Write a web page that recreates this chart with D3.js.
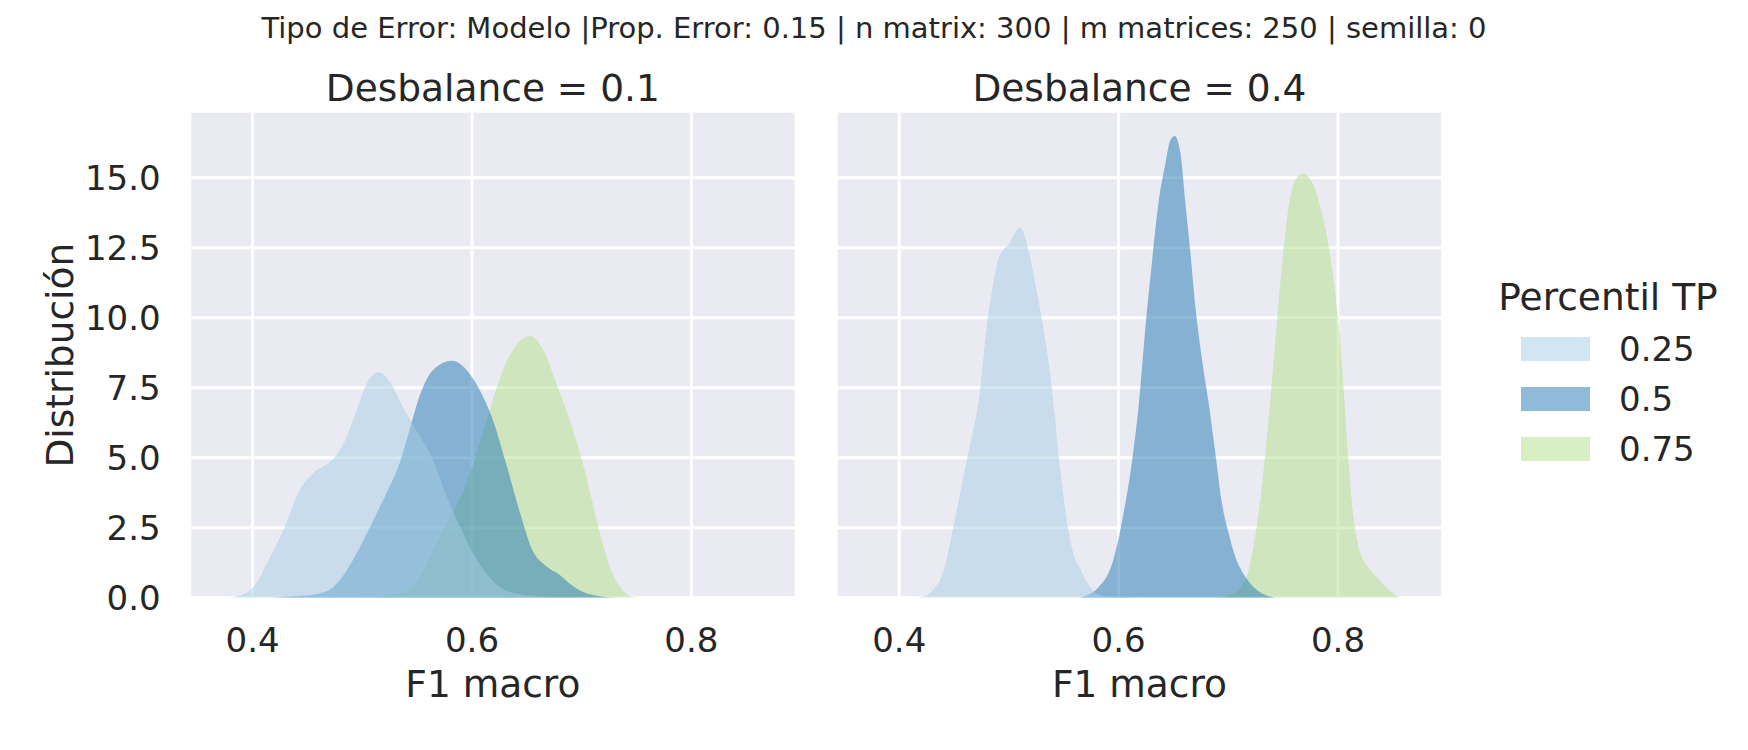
<!DOCTYPE html>
<html>
<head>
<meta charset="utf-8">
<script src="https://cdn.jsdelivr.net/npm/d3@7"></script>
<style>
  body { margin: 0; background: #fff; }
  text { font-family: "DejaVu Sans", sans-serif; fill: #262626; }
</style>
</head>
<body>
<div id="chart"></div>
<script>
// categories
var panelTitles = ["Desbalance = 0.1", "Desbalance = 0.4"];
var percentiles = ["0.25", "0.5", "0.75"];
var colors = ["#a6cee3", "#1f78b4", "#b2df8a"];

// tick values
var xTicks = [0.4, 0.6, 0.8];
var yTicks = [0, 2.5, 5, 7.5, 10, 12.5, 15];
var xDomain = [0.344, 0.894];
var yDomain = [0, 17.32];

// kde curves: [F1 macro, density]
var kde01_p25 = [[0.380,0],[0.386,0.05],[0.393,0.15],[0.401,0.39],[0.413,1.23],[0.428,2.42],[0.443,3.85],[0.455,4.44],[0.474,4.98],[0.483,5.51],[0.495,6.70],[0.504,7.65],[0.515,8.05],[0.525,7.71],[0.537,6.82],[0.549,5.99],[0.5645,4.92],[0.577,3.61],[0.589,2.54],[0.601,1.58],[0.613,0.87],[0.625,0.39],[0.640,0.15],[0.660,0.05],[0.680,0]];
var kde01_p50 = [[0.420,0],[0.428,0.03],[0.445,0.07],[0.458,0.12],[0.474,0.39],[0.486,0.99],[0.498,1.82],[0.510,2.77],[0.522,3.73],[0.534,4.80],[0.543,5.99],[0.552,7.18],[0.5645,8.13],[0.582,8.46],[0.595,8.13],[0.607,7.42],[0.619,6.35],[0.631,4.80],[0.643,3.13],[0.655,1.70],[0.668,1.11],[0.680,0.81],[0.689,0.51],[0.701,0.21],[0.716,0.05],[0.731,0]];
var kde01_p75 = [[0.500,0],[0.522,0.05],[0.537,0.2],[0.549,0.51],[0.5645,1.70],[0.577,2.65],[0.595,4.08],[0.607,5.51],[0.619,7.06],[0.631,8.37],[0.643,9.14],[0.653,9.35],[0.665,8.85],[0.677,7.65],[0.689,6.35],[0.701,4.80],[0.710,3.37],[0.719,1.94],[0.728,0.87],[0.737,0.27],[0.746,0.03],[0.752,0]];

var kde04_p25 = [[0.415,0],[0.4215,0.03],[0.4306,0.27],[0.4397,0.87],[0.4488,2.42],[0.4579,4.20],[0.4655,5.63],[0.473,7.18],[0.4791,9.44],[0.4852,11.11],[0.4912,12.18],[0.5003,12.65],[0.5103,13.21],[0.5185,12.30],[0.5245,11.11],[0.5306,9.80],[0.5367,8.25],[0.5412,6.70],[0.5458,4.92],[0.5518,3.01],[0.5579,1.70],[0.5655,0.99],[0.573,0.45],[0.5821,0.1],[0.594,0.03],[0.61,0.02],[0.625,0]];
var kde04_p50 = [[0.565,0],[0.5821,0.39],[0.5942,1.23],[0.6033,2.77],[0.6124,4.92],[0.6185,6.94],[0.6245,9.68],[0.6306,12.06],[0.6367,14.20],[0.6427,15.51],[0.6473,16.35],[0.6512,16.49],[0.6564,15.87],[0.6609,14.08],[0.6655,12.30],[0.67,10.39],[0.6761,8.49],[0.6821,6.94],[0.6882,5.15],[0.6942,3.37],[0.7003,2.30],[0.7064,1.46],[0.7155,0.75],[0.7245,0.33],[0.7336,0.1],[0.743,0]];
var kde04_p75 = [[0.69,0],[0.705,0.15],[0.7155,0.63],[0.7245,2.18],[0.7306,3.96],[0.7367,6.35],[0.7427,9.1],[0.7488,11.8],[0.7548,13.9],[0.7609,14.9],[0.7678,15.15],[0.7769,14.8],[0.7845,13.85],[0.7921,12.42],[0.7982,10.63],[0.8027,8.85],[0.8058,7.06],[0.8088,5.27],[0.8134,3.13],[0.8195,1.70],[0.8271,1.11],[0.8377,0.63],[0.8468,0.27],[0.856,0]];

var panelCurves = [
    [kde01_p25, kde01_p50, kde01_p75],
    [kde04_p25, kde04_p50, kde04_p75]
];

// layout
var svgWidth = 1748, svgHeight = 750;
var plotTop = 112.7, plotBottom = 597.7;
var panelLefts = [191.2, 837.8];
var panelWidth = 603.3;
var labelSize = "37.5px", tickSize = "34px";

var svg = d3.select("#chart")
    .append("svg")
    .attr("width", svgWidth)
    .attr("height", svgHeight);

// suptitle
svg.append("text")
    .attr("x", 874)
    .attr("y", 37.5)
    .attr("text-anchor", "middle")
    .style("font-size", "29px")
    .text("Tipo de Error: Modelo |Prop. Error: 0.15 | n matrix: 300 | m matrices: 250 | semilla: 0");

var yScale = d3.scaleLinear().domain(yDomain).range([plotBottom, plotTop]);

panelTitles.forEach(function(title, i) {
    var left = panelLefts[i];
    var xScale = d3.scaleLinear().domain(xDomain).range([left, left + panelWidth]);

    var g = svg.append("g");

    // background
    g.append("rect")
        .attr("x", left)
        .attr("y", plotTop)
        .attr("width", panelWidth)
        .attr("height", plotBottom - plotTop)
        .attr("fill", "#eaeaf2");

    // grid
    g.selectAll(".vgrid")
        .data(xTicks)
        .enter().append("line")
        .attr("x1", d => xScale(d)).attr("x2", d => xScale(d))
        .attr("y1", plotTop).attr("y2", plotBottom)
        .attr("stroke", "#fff").attr("stroke-width", 3);
    g.selectAll(".hgrid")
        .data(yTicks)
        .enter().append("line")
        .attr("x1", left).attr("x2", left + panelWidth)
        .attr("y1", d => yScale(d)).attr("y2", d => yScale(d))
        .attr("stroke", "#fff").attr("stroke-width", 3);

    // clip so curves stay inside axes
    svg.append("clipPath").attr("id", "clip" + i)
        .append("rect")
        .attr("x", left).attr("y", plotTop)
        .attr("width", panelWidth).attr("height", plotBottom - plotTop);

    var area = d3.area()
        .x(d => xScale(d[0]))
        .y0(yScale(0))
        .y1(d => yScale(d[1]))
        .curve(d3.curveMonotoneX);

    // seaborn draws the last hue first
    var order = [2, 1, 0];
    g.append("g")
        .attr("clip-path", "url(#clip" + i + ")")
        .selectAll("path")
        .data(order)
        .enter().append("path")
        .attr("d", k => area(panelCurves[i][k]))
        .attr("fill", k => colors[k])
        .attr("fill-opacity", 0.5);

    // x tick labels
    g.selectAll(".xtick")
        .data(xTicks)
        .enter().append("text")
        .attr("x", d => xScale(d))
        .attr("y", 651.7)
        .attr("text-anchor", "middle")
        .style("font-size", tickSize)
        .text(d => d3.format(".1f")(d));

    // x label
    g.append("text")
        .attr("x", left + panelWidth / 2)
        .attr("y", 697)
        .attr("text-anchor", "middle")
        .style("font-size", labelSize)
        .text("F1 macro");

    // panel title
    g.append("text")
        .attr("x", left + panelWidth / 2)
        .attr("y", 101)
        .attr("text-anchor", "middle")
        .style("font-size", labelSize)
        .text(title);

    if (i === 0) {
        g.selectAll(".ytick")
            .data(yTicks)
            .enter().append("text")
            .attr("x", 160.7)
            .attr("y", d => yScale(d))
            .attr("dy", "0.36em")
            .attr("text-anchor", "end")
            .style("font-size", tickSize)
            .text(d => d3.format(".1f")(d));

        g.append("text")
            .attr("transform", `translate(73, ${(plotTop + plotBottom) / 2}) rotate(-90)`)
            .attr("text-anchor", "middle")
            .style("font-size", labelSize)
            .text("Distribución");
    }
});

// legend
var legend = svg.append("g");
legend.append("text")
    .attr("x", 1608)
    .attr("y", 310)
    .attr("text-anchor", "middle")
    .style("font-size", labelSize)
    .text("Percentil TP");

var legendRows = legend.selectAll(".row")
    .data(percentiles)
    .enter().append("g")
    .attr("transform", (d, k) => `translate(0, ${349 + k * 50})`);

legendRows.append("rect")
    .attr("x", 1521)
    .attr("y", -12)
    .attr("width", 69)
    .attr("height", 24)
    .attr("fill", (d, k) => colors[k])
    .attr("fill-opacity", 0.5);

legendRows.append("text")
    .attr("x", 1619)
    .attr("dy", "0.36em")
    .style("font-size", tickSize)
    .text(d => d);
</script>
</body>
</html>
